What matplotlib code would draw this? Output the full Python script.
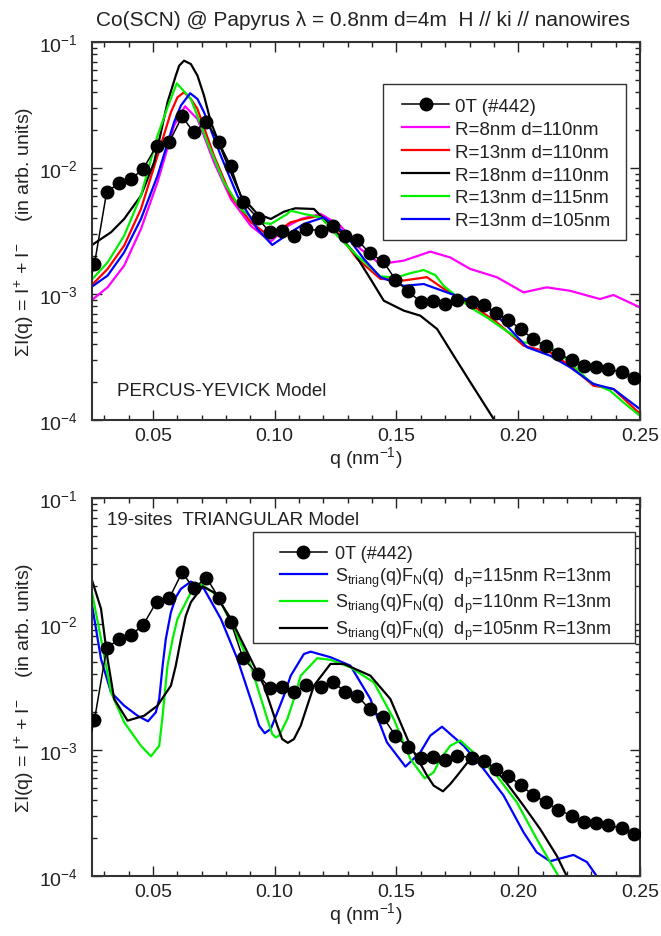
import numpy as np
import matplotlib
matplotlib.use('Agg')
import matplotlib.pyplot as plt
from matplotlib.ticker import MultipleLocator, LogLocator
from matplotlib.patches import Rectangle

plt.rcParams['font.family'] = ['Liberation Sans', 'DejaVu Sans']
plt.rcParams['mathtext.fontset'] = 'custom'
plt.rcParams['mathtext.rm'] = 'Liberation Sans'
plt.rcParams['mathtext.it'] = 'Liberation Sans:italic'
plt.rcParams['mathtext.bf'] = 'Liberation Sans:bold'

# measured data 0T (#442), same in both panels
q_data = [0.0209, 0.026, 0.031, 0.036, 0.041, 0.046, 0.0515, 0.0567, 0.062, 0.0667, 0.072,
          0.077, 0.082, 0.087, 0.093, 0.098, 0.103, 0.108, 0.113, 0.119, 0.124, 0.129,
          0.134, 0.139, 0.1445, 0.1496, 0.1546, 0.160, 0.165, 0.170, 0.175, 0.181, 0.186,
          0.191, 0.196, 0.201, 0.206, 0.2115, 0.2165, 0.222, 0.227, 0.232, 0.237, 0.2425, 0.2477]
I_data = [7.0e-4, 1.73e-3, 6.41e-3, 7.60e-3, 8.18e-3, 9.82e-3, 1.50e-2, 1.60e-2, 2.57e-2, 1.92e-2, 2.33e-2,
          1.62e-2, 1.03e-2, 5.35e-3, 4.01e-3, 3.09e-3, 3.18e-3, 2.90e-3, 3.28e-3, 3.18e-3, 3.44e-3, 2.90e-3,
          2.70e-3, 2.10e-3, 1.82e-3, 1.30e-3, 1.05e-3, 8.69e-4, 8.85e-4, 8.34e-4, 9.02e-4, 8.69e-4, 8.18e-4,
          7.06e-4, 6.22e-4, 5.27e-4, 4.40e-4, 3.85e-4, 3.34e-4, 3.01e-4, 2.70e-4, 2.65e-4, 2.54e-4, 2.39e-4, 2.14e-4]

# Percus-Yevick fits (top panel)
q_r8 = [0.0246, 0.0314, 0.0382, 0.0451, 0.0519, 0.0587, 0.0632, 0.0683, 0.0751, 0.082, 0.0902, 0.0984,
        0.1045, 0.1107, 0.1189, 0.127, 0.1352, 0.1434, 0.153, 0.1639, 0.1721, 0.1803, 0.1912, 0.2022,
        0.2117, 0.2213, 0.2336, 0.2391, 0.25]
I_r8 = [8.85e-4, 1.13e-3, 1.68e-3, 3.28e-3, 7.71e-3, 2.17e-2, 3.09e-2, 2.45e-2, 1.11e-2, 5.68e-3, 3.48e-3, 2.60e-3,
        3.39e-3, 3.94e-3, 4.32e-3, 3.48e-3, 2.28e-3, 1.73e-3, 1.84e-3, 2.17e-3, 1.95e-3, 1.58e-3, 1.36e-3, 1.03e-3,
        1.13e-3, 1.06e-3, 9.12e-4, 9.82e-4, 7.83e-4]

q_r13 = [0.0246, 0.0314, 0.0382, 0.0451, 0.0519, 0.0574, 0.0601, 0.0628, 0.0656, 0.0683, 0.0751, 0.082,
         0.0902, 0.0984, 0.1025, 0.1066, 0.112, 0.1189, 0.1257, 0.1339, 0.1434, 0.153, 0.1625, 0.1694,
         0.1803, 0.1912, 0.2022, 0.2131, 0.2213, 0.2309, 0.2391, 0.25]
I_r13 = [1.16e-3, 1.58e-3, 2.42e-3, 4.73e-3, 1.25e-2, 2.77e-2, 3.64e-2, 3.99e-2, 3.53e-2, 2.94e-2, 1.25e-2, 6.03e-3,
         3.71e-3, 2.82e-3, 3.28e-3, 3.71e-3, 3.94e-3, 4.19e-3, 3.09e-3, 1.90e-3, 1.32e-3, 1.28e-3, 1.36e-3, 1.10e-3,
         8.34e-4, 5.96e-4, 3.89e-4, 3.44e-4, 2.70e-4, 1.87e-4, 1.76e-4, 1.12e-4]

q_r18 = [0.0246, 0.0328, 0.0382, 0.0451, 0.0505, 0.0533, 0.056, 0.0594, 0.0608, 0.0628, 0.0656, 0.0683,
         0.071, 0.0738, 0.0792, 0.0861, 0.0929, 0.0984, 0.1038, 0.1085, 0.1161, 0.1216, 0.1325, 0.1393,
         0.1448, 0.153, 0.1598, 0.1667, 0.1735, 0.1803, 0.1899, 0.195]
I_r18 = [2.42e-3, 3.09e-3, 3.94e-3, 6.03e-3, 1.11e-2, 1.92e-2, 3.32e-2, 5.41e-2, 6.49e-2, 7.11e-2, 6.68e-2, 5.41e-2,
         3.75e-2, 2.31e-2, 1.25e-2, 6.03e-3, 4.32e-3, 3.94e-3, 4.50e-3, 4.79e-3, 4.73e-3, 3.71e-3, 2.14e-3, 1.32e-3,
         8.85e-4, 7.38e-4, 6.73e-4, 5.27e-4, 3.24e-4, 2.00e-4, 1.02e-4, 6.3e-5]

q_d115 = [0.0246, 0.0314, 0.0382, 0.0451, 0.0519, 0.056, 0.0598, 0.0656, 0.0724, 0.0792, 0.0861, 0.0929,
          0.0984, 0.1052, 0.1066, 0.112, 0.1189, 0.1257, 0.1339, 0.1434, 0.150, 0.155, 0.1612, 0.166,
          0.1694, 0.1803, 0.1871, 0.194, 0.2022, 0.2117, 0.2213, 0.2295, 0.2377, 0.2432, 0.25]
I_d115 = [1.28e-3, 1.78e-3, 2.90e-3, 6.03e-3, 1.80e-2, 3.03e-2, 4.70e-2, 3.53e-2, 1.60e-2, 7.71e-3, 4.73e-3, 3.71e-3,
          3.60e-3, 4.32e-3, 4.58e-3, 4.32e-3, 4.06e-3, 2.90e-3, 2.01e-3, 1.38e-3, 1.35e-3, 1.45e-3, 1.55e-3, 1.41e-3,
          1.16e-3, 7.83e-4, 6.53e-4, 5.27e-4, 4.13e-4, 4.01e-4, 2.87e-4, 2.00e-4, 1.71e-4, 1.38e-4, 1.08e-4]

q_d105 = [0.0246, 0.0314, 0.0382, 0.0451, 0.0519, 0.0587, 0.0615, 0.0653, 0.0683, 0.071, 0.0779, 0.0847,
          0.0929, 0.099, 0.1066, 0.112, 0.1202, 0.1284, 0.1366, 0.1434, 0.153, 0.1612, 0.1707, 0.1803,
          0.1858, 0.194, 0.2036, 0.2131, 0.2213, 0.2309, 0.2391, 0.25]
I_d105 = [1.13e-3, 1.40e-3, 2.14e-3, 3.94e-3, 8.69e-3, 2.31e-2, 3.13e-2, 3.92e-2, 3.53e-2, 2.77e-2, 1.25e-2, 6.03e-3,
          3.28e-3, 2.45e-3, 3.09e-3, 3.60e-3, 4.06e-3, 3.09e-3, 1.90e-3, 1.36e-3, 1.16e-3, 1.20e-3, 1.03e-3, 8.85e-4,
          8.34e-4, 5.96e-4, 3.78e-4, 3.24e-4, 2.62e-4, 1.93e-4, 1.76e-4, 1.22e-4]

# triangular 19-sites model (bottom panel)
q_t115 = [0.0246, 0.0287, 0.0328, 0.0382, 0.0437, 0.048, 0.0512, 0.0526, 0.054, 0.0553, 0.0574, 0.0594,
          0.0615, 0.0656, 0.071, 0.0779, 0.0847, 0.0915, 0.0936, 0.0959, 0.0984, 0.1011, 0.1038, 0.1066,
          0.112, 0.1148, 0.1229, 0.1311, 0.1393, 0.1461, 0.1537, 0.1598, 0.1639, 0.1687, 0.1776, 0.1858,
          0.194, 0.2022, 0.2076, 0.2131, 0.2227, 0.2282, 0.2322, 0.236]
I_t115 = [1.58e-2, 5.27e-3, 2.87e-3, 2.25e-3, 1.87e-3, 1.69e-3, 1.99e-3, 2.54e-3, 4.67e-3, 7.60e-3, 1.24e-2, 1.63e-2,
          1.90e-2, 2.17e-2, 1.90e-2, 1.10e-2, 5.27e-3, 2.11e-3, 1.56e-3, 1.36e-3, 1.47e-3, 1.99e-3, 2.70e-3, 3.89e-3,
          5.78e-3, 6.03e-3, 5.45e-3, 4.67e-3, 2.54e-3, 1.15e-3, 7.38e-4, 9.59e-4, 1.30e-3, 1.53e-3, 1.08e-3, 7.06e-4,
          4.35e-4, 2.22e-4, 1.54e-4, 1.31e-4, 1.47e-4, 1.29e-4, 1.00e-4, 6.3e-5]

q_t110 = [0.0246, 0.0287, 0.0328, 0.0382, 0.0451, 0.0492, 0.0526, 0.054, 0.056, 0.0581, 0.0601, 0.0656,
          0.0697, 0.0765, 0.0833, 0.0902, 0.097, 0.099, 0.1004, 0.1018, 0.1052, 0.1079, 0.1107, 0.1175,
          0.1229, 0.1311, 0.1407, 0.1489, 0.1557, 0.1616, 0.1653, 0.168, 0.1721, 0.1762, 0.1831, 0.1912,
          0.1994, 0.2076, 0.2131, 0.2165, 0.221]
I_t110 = [1.95e-2, 7.60e-3, 2.87e-3, 1.66e-3, 1.08e-3, 8.91e-4, 1.08e-3, 1.87e-3, 4.67e-3, 7.60e-3, 1.10e-2, 1.78e-2,
          2.07e-2, 1.68e-2, 9.12e-3, 4.67e-3, 1.76e-3, 1.34e-3, 1.26e-3, 1.30e-3, 1.76e-3, 2.54e-3, 3.89e-3, 5.35e-3,
          5.20e-3, 4.53e-3, 3.44e-3, 1.76e-3, 8.49e-4, 5.96e-4, 6.65e-4, 8.49e-4, 1.08e-3, 1.19e-3, 9.02e-4, 6.25e-4,
          3.85e-4, 1.97e-4, 1.29e-4, 1.00e-4, 6.3e-5]

q_t105 = [0.0246, 0.0287, 0.0314, 0.0341, 0.0396, 0.0464, 0.0519, 0.0574, 0.0594, 0.0615, 0.0635, 0.0656,
          0.0704, 0.0751, 0.082, 0.0888, 0.0956, 0.1011, 0.1031, 0.1054, 0.1079, 0.1107, 0.1161, 0.1229,
          0.1284, 0.1393, 0.1475, 0.1557, 0.1626, 0.1653, 0.1691, 0.1721, 0.1749, 0.1803, 0.1858, 0.194,
          0.2022, 0.209, 0.2158, 0.2199, 0.224]
I_t105 = [2.36e-2, 1.32e-2, 5.27e-3, 2.54e-3, 1.71e-3, 1.87e-3, 2.25e-3, 3.24e-3, 4.67e-3, 7.60e-3, 1.16e-2, 1.49e-2,
          1.99e-2, 1.78e-2, 1.10e-2, 5.96e-3, 3.24e-3, 1.56e-3, 1.22e-3, 1.14e-3, 1.22e-3, 1.56e-3, 3.24e-3, 4.82e-3,
          4.82e-3, 3.89e-3, 2.54e-3, 1.08e-3, 6.25e-4, 5.21e-4, 4.70e-4, 5.37e-4, 6.25e-4, 8.49e-4, 8.49e-4, 5.89e-4,
          3.61e-4, 2.36e-4, 1.45e-4, 1.00e-4, 6.3e-5]

x_ticks = [0.05, 0.10, 0.15, 0.20, 0.25]
x_ticklabels = ['0.05', '0.10', '0.15', '0.20', '0.25']

txt = '#222222'
green = '#00f000'
fig = plt.figure(figsize=(6.61, 9.37), dpi=100)
ax1 = fig.add_axes([92/661, 1-421/937, 548/661, 378/937])
ax2 = fig.add_axes([92/661, 1-877/937, 548/661, 378/937])

lw = 1.6
ax1.plot(q_data, I_data, '-', color='k', lw=1.1, marker='o', ms=9, label='0T (#442)', zorder=5)
ax1.plot(q_r8, I_r8, color='#ff00ff', lw=lw, label='R=8nm d=110nm')
ax1.plot(q_r13, I_r13, color='#ff0000', lw=lw, label='R=13nm d=110nm')
ax1.plot(q_r18, I_r18, color='k', lw=lw, label='R=18nm d=110nm')
ax1.plot(q_d115, I_d115, color=green, lw=lw, label='R=13nm d=115nm')
ax1.plot(q_d105, I_d105, color='#0000ff', lw=lw, label='R=13nm d=105nm')

ax2.plot(q_data, I_data, '-', color='k', lw=1.1, marker='o', ms=9, label='0T (#442)', zorder=5)
ax2.plot(q_t115, I_t115, color='#0000ff', lw=lw,
         label=r'S$_{\rm triang}$(q)F$_{\rm N}$(q)  d$_{\rm p}$=115nm R=13nm')
ax2.plot(q_t110, I_t110, color=green, lw=lw,
         label=r'S$_{\rm triang}$(q)F$_{\rm N}$(q)  d$_{\rm p}$=110nm R=13nm')
ax2.plot(q_t105, I_t105, color='k', lw=lw,
         label=r'S$_{\rm triang}$(q)F$_{\rm N}$(q)  d$_{\rm p}$=105nm R=13nm')

for ax in (ax1, ax2):
    ax.set_yscale('log')
    ax.set_xlim(0.025, 0.25)
    ax.set_ylim(1e-4, 1e-1)
    ax.set_xticks(x_ticks)
    ax.set_xticklabels(x_ticklabels)
    ax.xaxis.set_minor_locator(MultipleLocator(0.01))
    ax.yaxis.set_minor_locator(LogLocator(base=10, subs=np.arange(2, 10)))
    ax.tick_params(which='both', direction='in', top=True, right=True, colors=txt,
                   labelsize=14, width=1.0)
    ax.tick_params(which='major', length=7, pad=5)
    ax.tick_params(axis='y', which='major', pad=10)
    ax.tick_params(which='minor', length=3.5)
    for s in ax.spines.values():
        s.set_linewidth(1.5)
        s.set_color('#333333')
    ax.set_xlabel(r'q (nm$^{-1}$)', fontsize=14, color=txt, labelpad=0)
    ax.set_ylabel(r'ΣI(q) = I$^{+}$ + I$^{-}$    (in arb. units)', fontsize=14, color=txt, labelpad=2)

# legends: frame drawn separately so the padding matches the original
leg1 = ax1.legend(loc='upper left', bbox_to_anchor=(0.565, 0.853), fontsize=13.5, frameon=False,
                  handlelength=2.55, handletextpad=0.3, labelspacing=0.31, borderpad=0, borderaxespad=0)
ax1.add_patch(Rectangle((0.531, 0.476), 0.4435, 0.413, transform=ax1.transAxes, fill=True,
                        facecolor='white', edgecolor='#333333', lw=1.0, zorder=4))
leg1.set_zorder(6)

leg2 = ax2.legend(loc='upper left', bbox_to_anchor=(0.343, 0.876), fontsize=13, frameon=False,
                  handlelength=2.6, handletextpad=0.45, labelspacing=0.2, borderpad=0, borderaxespad=0)
ax2.add_patch(Rectangle((0.2938, 0.616), 0.697, 0.294, transform=ax2.transAxes, fill=True,
                        facecolor='white', edgecolor='#333333', lw=1.0, zorder=4))
leg2.set_zorder(6)
for leg in (leg1, leg2):
    for t in leg.get_texts():
        t.set_color(txt)

ax1.text(0.046, 0.079, 'PERCUS-YEVICK Model', transform=ax1.transAxes, fontsize=13.5,
         color=txt, va='center', ha='left')
ax2.text(0.027, 0.942, '19-sites  TRIANGULAR Model', transform=ax2.transAxes, fontsize=13.5,
         color=txt, va='center', ha='left')

fig.text(363/661, 1-21/937, 'Co(SCN) @ Papyrus λ = 0.8nm d=4m  H // ki // nanowires',
         fontsize=15, color=txt, ha='center', va='center')

fig.savefig('out.png', dpi=100)
